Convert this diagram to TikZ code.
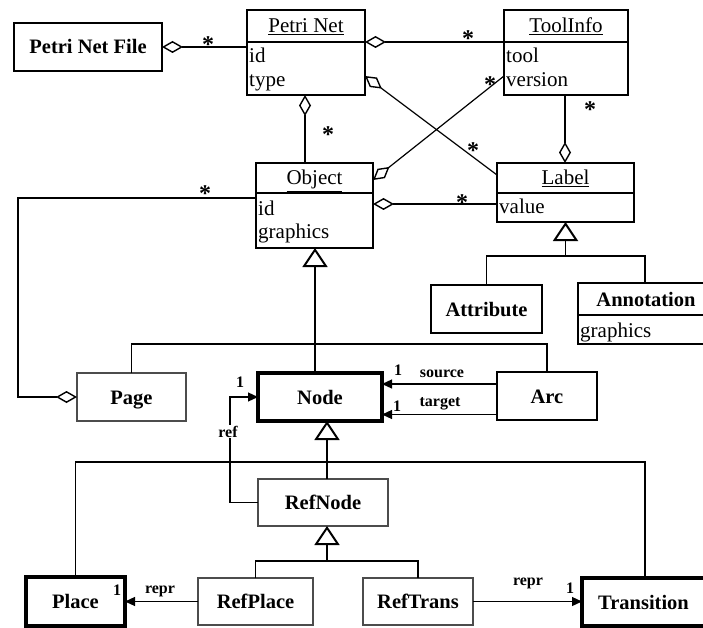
\documentclass[tikz,border=0pt]{standalone}
\usepackage{fontspec}
\setmainfont{Liberation Serif}
\usetikzlibrary{arrows.meta,calc}
\begin{document}
\begin{tikzpicture}[x=1pt,y=-1pt,
  cls/.style={draw, line width=2.2pt, inner sep=0pt, outer sep=0pt},
  heavy/.style={draw, line width=3.2pt, inner sep=0pt, outer sep=0pt},
  light/.style={draw=black!70, line width=1.1pt, inner sep=0pt, outer sep=0pt},
  cname/.style={anchor=base, inner sep=0pt, font=\fontsize{20.5}{24}\selectfont\bfseries},
  hdr/.style={anchor=base, inner sep=0pt, font=\fontsize{21}{24}\selectfont},
  attrib/.style={anchor=base west, inner sep=0pt, font=\fontsize{21}{24}\selectfont},
  small/.style={anchor=base, inner sep=0pt, font=\fontsize{16}{18}\selectfont\bfseries},
  mult/.style={inner sep=0pt, font=\fontsize{24}{24}\selectfont\bfseries},
  conn/.style={line width=1.2pt},
  agg/.style={conn, {Diamond[open,length=21pt,width=12pt,line width=1.4pt]}-},
  gen/.style={conn, -{Triangle[open,length=19pt,width=25pt,line width=2pt]}},
  nav/.style={conn, -{Triangle[length=10pt,width=9pt]}},
  divider/.style={line width=2.2pt}
]
\useasboundingbox (0,0) rectangle (703,628);

% ---------- class boxes ----------
\node[cls, minimum width=148pt, minimum height=48pt] (pnf) at (88,47) {};
\node[cls, minimum width=118pt, minimum height=85pt] (pn) at (306,52.5) {};
\node[cls, minimum width=124pt, minimum height=85pt] (ti) at (566,52.5) {};
\node[cls, minimum width=117pt, minimum height=85pt] (obj) at (314.5,205.5) {};
\node[cls, minimum width=137pt, minimum height=59pt] (lab) at (565.5,192.5) {};
\node[cls, minimum width=111pt, minimum height=48pt] (attr) at (486.5,309) {};
\node[cls, minimum width=127pt, minimum height=61pt] (ann) at (641.5,313.5) {};
\node[light, minimum width=109pt, minimum height=48pt] (page) at (131.5,397) {};
\node[heavy, minimum width=124pt, minimum height=48pt] (node) at (320,397) {};
\node[cls, minimum width=100pt, minimum height=48pt] (arc) at (547,396) {};
\node[light, minimum width=130pt, minimum height=47pt] (refnode) at (323,502.5) {};
\node[heavy, minimum width=99pt, minimum height=49pt] (place) at (75.5,601.5) {};
\node[light, minimum width=115pt, minimum height=47pt] (refplace) at (255.5,601.5) {};
\node[light, minimum width=110pt, minimum height=47pt] (reftrans) at (418,601.5) {};
\node[heavy, minimum width=123pt, minimum height=48pt] (trans) at (643.5,602) {};

% compartment dividers
\draw[divider] ([yshift=-32pt]pn.north west) -- ([yshift=-32pt]pn.north east);
\draw[divider] ([yshift=-32pt]ti.north west) -- ([yshift=-32pt]ti.north east);
\draw[divider] ([yshift=-30pt]obj.north west) -- ([yshift=-30pt]obj.north east);
\draw[divider] ([yshift=-30pt]lab.north west) -- ([yshift=-30pt]lab.north east);
\draw[divider] ([yshift=-32pt]ann.north west) -- ([yshift=-32pt]ann.north east);

% ---------- texts ----------
\node[cname] (pnf-t) at (88,54) {Petri Net File};
\node[hdr] (pn-t) at (306,33) {\underline{Petri Net}};
\node[attrib] (pn-a1) at (249,63) {id};
\node[attrib] (pn-a2) at (249,87) {type};
\node[hdr] (ti-t) at (566,33) {\underline{ToolInfo}};
\node[attrib] (ti-a1) at (506,63) {tool};
\node[attrib] (ti-a2) at (506,87) {version};
\node[hdr] (obj-t) at (314.5,185) {\underline{Object}};
\node[attrib] (obj-a1) at (258,215) {id};
\node[attrib] (obj-a2) at (258,238) {graphics};
\node[hdr] (lab-t) at (565.5,185) {\underline{Label}};
\node[attrib] (lab-a1) at (499,214) {value};
\node[cname] (attr-t) at (486.5,316) {Attribute};
\node[cname] (ann-t) at (646,306) {Annotation};
\node[attrib] (ann-a1) at (580,337) {graphics};
\node[cname] (page-t) at (131.5,404) {Page};
\node[cname] (node-t) at (320,404) {Node};
\node[cname] (arc-t) at (547,403) {Arc};
\node[cname] (refnode-t) at (323,509) {RefNode};
\node[cname] (place-t) at (75.5,608) {Place};
\node[cname] (refplace-t) at (255.5,608) {RefPlace};
\node[cname] (reftrans-t) at (418,608) {RefTrans};
\node[cname] (trans-t) at (643.5,609) {Transition};

% ---------- helper coordinates ----------
\coordinate (x305) at (305,0);
\coordinate (x315) at (315,0);
\coordinate (x565) at (565,0);
\coordinate (c18) at (18,198);
\coordinate (g1) at (315,344);
\coordinate (g2) at (565.5,256);
\coordinate (g2r) at (645,256);
\coordinate (g3) at (327,462);
\coordinate (g3r) at (645,462);
\coordinate (g4) at (327,561);
\coordinate (rx) at (230,0);

% ---------- aggregations ----------
\draw[agg] (pnf.east) -- (pnf.east -| pn.west);
\draw[agg] ([yshift=10.5pt]pn.east) -- ([yshift=10.5pt]ti.west);
\draw[agg] ([yshift=-23.5pt]pn.east) -- ([yshift=17.5pt]lab.west);
\draw[agg] ([yshift=25.5pt]obj.east) -- ([yshift=-23.5pt]ti.west);
\draw[agg] (lab.north -| x565) -- (ti.south -| x565);
\draw[agg] (pn.south -| x305) -- (obj.north -| x305);
\draw[agg] ([yshift=1.5pt]obj.east) -- ([yshift=1.5pt]obj.east -| lab.west);
\draw[agg] (page.west) -| (c18) -- (c18 -| obj.west);

% ---------- generalizations ----------
\draw[gen] (node.north -| x315) -- (obj.south -| x315);
\draw[conn] (page.north) |- (g1) -| (arc.north);
\draw[gen] (g2) -- (lab.south);
\draw[conn] (attr.north) |- (g2r) -- (ann.north -| g2r);
\draw[gen] (refnode.north -| g3) -- (node.south -| g3);
\draw[conn] (place.north) |- (g3r) -- (trans.north -| g3r);
\draw[gen] (g4) -- (refnode.south -| g4);
\draw[conn] (refplace.north) |- (g4) -| (reftrans.north);

% ---------- navigable associations ----------
\draw[nav] (refnode.west) -| (rx |- node.west) -- (node.west);
\draw[nav] ([yshift=12pt]arc.west) -- ([yshift=12pt]arc.west -| node.east);
\draw[nav] ([yshift=-18.5pt]arc.west) -- ([yshift=-18.5pt]arc.west -| node.east);
\draw[nav] (refplace.west) -- (refplace.west -| place.east);
\draw[nav] (reftrans.east) -- (reftrans.east -| trans.west);

% ---------- role names and multiplicities ----------
\node[small] (l-src1) at (398,375) {1};
\node[small] (l-src) at (442,377) {source};
\node[small] (l-tgt1) at (397,411) {1};
\node[small] (l-tgt) at (440,406) {target};
\node[small] (l-ref1) at (240,387) {1};
\node[small, fill=white, inner sep=1pt] (l-ref) at (228,437) {ref};
\node[small] (l-pl1) at (117,595) {1};
\node[small] (l-pl) at (160,593) {repr};
\node[small] (l-tr1) at (570,593) {1};
\node[small] (l-tr) at (528,585) {repr};

\node[mult] (m1) at (208,45) {*};
\node[mult] (m2) at (468,39) {*};
\node[mult] (m3) at (328,135) {*};
\node[mult] (m4) at (473,151) {*};
\node[mult] (m5) at (490,85) {*};
\node[mult] (m6) at (590,110) {*};
\node[mult] (m7) at (462,203) {*};
\node[mult] (m8) at (205,194) {*};
\end{tikzpicture}
\end{document}
